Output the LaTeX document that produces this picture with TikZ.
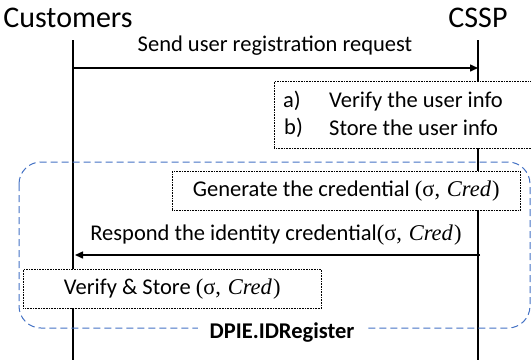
\documentclass[tikz,border=0pt]{standalone}
\usepackage{fontspec}
\setmainfont{Carlito}
\newfontfamily\mathserif{Liberation Serif}
\usetikzlibrary{arrows.meta}
\definecolor{dpieblue}{RGB}{68,114,196}
\newcommand{\credpair}{{\mathserif(σ,\hspace{0.3em}\textit{Cred}\hspace{0.05em})}}
\begin{document}
\begin{tikzpicture}[x=1pt,y=-1pt,
  lifeline/.style={line width=1.5pt},
  msg/.style={line width=1.5pt,-{Triangle[length=8pt,width=7pt]}},
  stepbox/.style={draw,densely dotted,fill=white,line width=0.6pt},
  body/.style={font=\fontsize{22.5}{25}\selectfont},
  actor/.style={font=\fontsize{30}{34}\selectfont}]
\useasboundingbox (0,0) rectangle (531,360);

% actors and lifelines
\node[actor] (cust) at (68,18) {Customers};
\node[actor] (cssp) at (478,18) {CSSP};
\coordinate (cTop) at (73,40);  \coordinate (cBot) at (73,360);
\coordinate (sTop) at (478,40); \coordinate (sBot) at (478,360);
\draw[lifeline] (cTop) -- (cBot);
\draw[lifeline] (sTop) -- (sBot);

% protocol frame
\draw[dpieblue,line width=1pt,dash pattern=on 7pt off 4pt,rounded corners=22pt]
  (19,162) rectangle (530,328);
\node[fill=white,font=\fontsize{22.5}{25}\selectfont\bfseries,inner xsep=12pt,inner ysep=1pt] (frame) at (282,333) {DPIE.IDRegister};

% registration request
\coordinate (m1s) at (73,68); \coordinate (m1e) at (478,68);
\draw[msg] (m1s) -- (m1e);
\node[body] (m1l) at (275,46) {Send user registration request};

% server-side checks
\node[stepbox,minimum width=260pt,minimum height=67pt,anchor=north west] (check) at (274,81) {};
\node[body,anchor=west,inner xsep=0pt] (ca) at (283,101) {a)};
\node[body,anchor=west,inner xsep=0pt] (ct) at (329,101) {Verify the user info};
\node[body,anchor=west,inner xsep=0pt] (cb) at (284,128) {b)};
\node[body,anchor=west,inner xsep=0pt] (cu) at (329,128) {Store the user info};

% credential generation
\node[stepbox,body,minimum width=348pt,minimum height=39pt,anchor=north west] (gen) at (172,171) {Generate the credential \credpair};

% credential response
\coordinate (m2s) at (480,255); \coordinate (m2e) at (75,255);
\draw[msg] (m2s) -- (m2e);
\node[body] (m2l) at (276,235) {Respond the identity credential\credpair};

% client-side verification
\node[stepbox,body,minimum width=298pt,minimum height=39pt,anchor=north west] (ver) at (23,269) {Verify \& Store \credpair};
\end{tikzpicture}
\end{document}
